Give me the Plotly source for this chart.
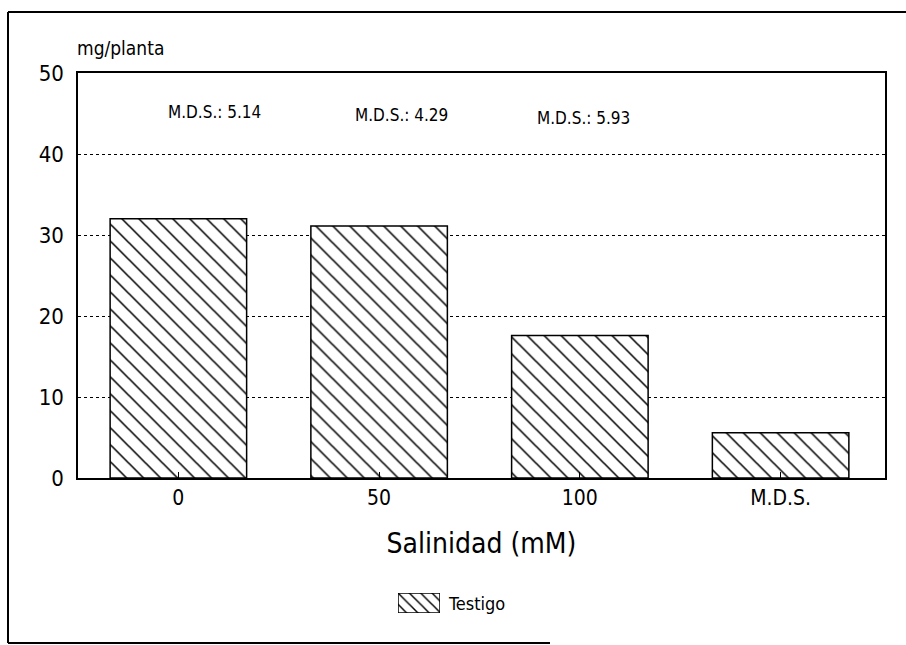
import plotly.graph_objects as go

categories = ["0", "50", "100", "M.D.S."]
testigo = [32.0, 31.1, 17.6, 5.6]
mds_labels = ["M.D.S.: 5.14", "M.D.S.: 4.29", "M.D.S.: 5.93"]
mds_x = [0.18, 1.11, 2.02]
mds_y = [45.2, 44.8, 44.4]
y_ticks = [0, 10, 20, 30, 40, 50]
legend_key = [1]

FONT = "Liberation Sans Narrow, DejaVu Sans Condensed, Arial Narrow, sans-serif"
W, H = 906, 645

def px(x):
    return x / W

def py(y):
    return (H - y) / H

hatch = dict(shape="\\", fgcolor="black", bgcolor="white", size=12,
             solidity=0.13, fillmode="overlay", fgopacity=1)

fig = go.Figure()
fig.add_trace(go.Bar(
    x=list(range(len(categories))), y=testigo, name="Testigo", width=0.68,
    marker=dict(color="white", line=dict(color="black", width=1.5), pattern=hatch),
    showlegend=False,
))
# legend key swatch
fig.add_trace(go.Bar(
    x=[0], y=legend_key, width=1, xaxis="x2", yaxis="y2", showlegend=False,
    marker=dict(color="white", line=dict(color="black", width=1.5),
                pattern=dict(hatch, size=8, solidity=0.18)),
    hoverinfo="skip",
))

for t, x, y in zip(mds_labels, mds_x, mds_y):
    fig.add_annotation(x=x, y=y, xref="x", yref="y", text=t, showarrow=False,
                       font=dict(family=FONT, size=17, color="black"))

fig.add_annotation(x=px(75), y=py(48), xref="paper", yref="paper", xanchor="left",
                   yanchor="middle", text="mg/planta", showarrow=False,
                   font=dict(family=FONT, size=19, color="black"))
fig.add_annotation(x=px(446), y=py(603), xref="paper", yref="paper", xanchor="left",
                   yanchor="middle", text="Testigo", showarrow=False,
                   font=dict(family=FONT, size=18, color="black"))

# outer frame
fig.add_shape(type="line", xref="paper", yref="paper", x0=px(8), x1=px(8),
              y0=py(643), y1=py(12), line=dict(color="black", width=2))
fig.add_shape(type="line", xref="paper", yref="paper", x0=px(8), x1=1,
              y0=py(12), y1=py(12), line=dict(color="black", width=2))
fig.add_shape(type="line", xref="paper", yref="paper", x0=px(8), x1=px(550),
              y0=py(643), y1=py(643), line=dict(color="black", width=2))

fig.update_layout(
    width=W, height=H,
    margin=dict(l=0, r=0, t=0, b=0, autoexpand=False),
    paper_bgcolor="white", plot_bgcolor="white",
    font=dict(family=FONT, color="black"),
    showlegend=False,
    xaxis=dict(
        domain=[px(78), px(885)], anchor="y", automargin=False,
        range=[-0.5, 3.52], tickmode="array", tickvals=list(range(len(categories))),
        ticktext=categories, ticks="inside", ticklen=6, tickcolor="black",
        showline=True, linecolor="black", linewidth=1.5, mirror=True,
        showgrid=False, zeroline=False,
        tickfont=dict(family=FONT, size=21),
        title=dict(text="Salinidad (mM)", font=dict(family=FONT, size=28), standoff=24),
    ),
    yaxis=dict(
        domain=[py(478), py(73)], anchor="x", automargin=False,
        range=[0, 50], tickvals=y_ticks, ticks="", showline=True, linecolor="black",
        linewidth=1.5, mirror=True, showgrid=True, gridcolor="black", griddash="dot",
        gridwidth=1, zeroline=False, tickfont=dict(family=FONT, size=22),
        ticklabelstandoff=8,
    ),
    xaxis2=dict(domain=[px(398), px(440)], anchor="y2", range=[-0.5, 0.5],
                visible=False, fixedrange=True, automargin=False),
    yaxis2=dict(domain=[py(613), py(593)], anchor="x2", range=[0, 1],
                visible=False, fixedrange=True, automargin=False),
)

fig.write_html("out.html")
